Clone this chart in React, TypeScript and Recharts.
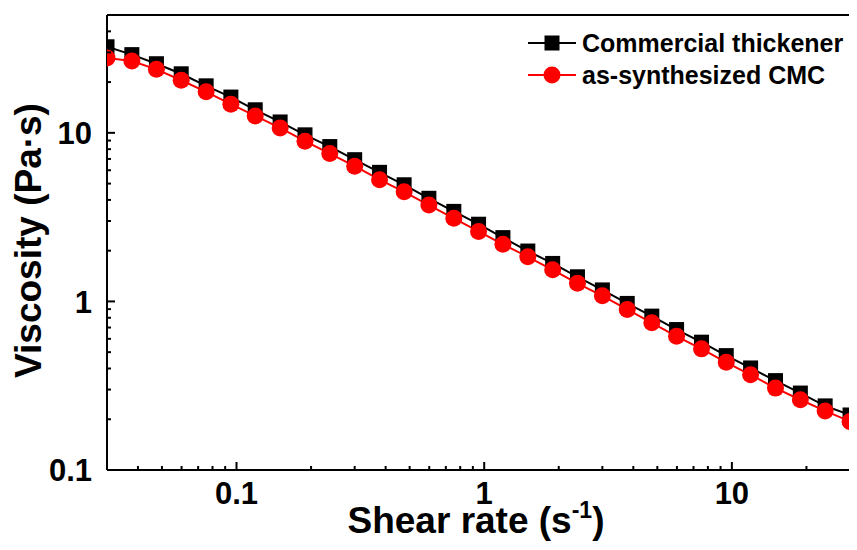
import { LineChart, Line, XAxis, YAxis, ReferenceLine } from "recharts";

const shearRate = [
  0.03, 0.0378, 0.0475, 0.0598, 0.0754, 0.0949, 0.119, 0.15, 0.189, 0.238, 0.3, 0.378, 0.475, 0.598, 0.754, 0.949,
  1.19, 1.5, 1.89, 2.38, 3.0, 3.78, 4.75, 5.98, 7.54, 9.49, 11.9, 15.0, 18.9, 23.8, 30.0,
];
const commercial = [
  32.4, 29.1, 25.7, 22.4, 19.0, 16.3, 13.7, 11.6, 9.73, 8.29, 6.93, 5.83, 4.92, 4.09, 3.42, 2.87, 2.39, 1.99, 1.68,
  1.4, 1.17, 0.973, 0.818, 0.681, 0.573, 0.477, 0.403, 0.339, 0.286, 0.24, 0.212,
];
const synthesized = [
  27.8, 26.7, 23.8, 20.5, 17.5, 14.8, 12.6, 10.7, 8.92, 7.53, 6.34, 5.27, 4.47, 3.73, 3.11, 2.6, 2.18, 1.84, 1.54,
  1.28, 1.08, 0.896, 0.747, 0.621, 0.523, 0.435, 0.367, 0.306, 0.261, 0.224, 0.194,
];

const xMajor = [0.1, 1, 10];
const xMinor = [0.04, 0.05, 0.06, 0.07, 0.08, 0.09, 0.2, 0.3, 0.4, 0.5, 0.6, 0.7, 0.8, 0.9, 2, 3, 4, 5, 6, 7, 8, 9, 20, 30];
const yMajor = [0.1, 1, 10];
const yMinor = [0.2, 0.3, 0.4, 0.5, 0.6, 0.7, 0.8, 0.9, 2, 3, 4, 5, 6, 7, 8, 9, 20, 30, 40, 50];

const data = shearRate.map((x, i) => ({ x, commercial: commercial[i], synthesized: synthesized[i] }));

const font = "Arial, 'Liberation Sans', sans-serif";

const XTick = (props: any) => {
  const { x, y, payload } = props;
  const major = xMajor.includes(payload.value);
  return (
    <g>
      <line x1={x} x2={x} y1={y} y2={y - (major ? 8 : 4)} stroke="#000" strokeWidth={2} />
      {major && (
        <text x={x} y={y + 34} textAnchor="middle" fontFamily={font} fontWeight="bold" fontSize={31} fill="#000">
          {payload.value}
        </text>
      )}
    </g>
  );
};

const YTick = (props: any) => {
  const { x, y, payload } = props;
  const major = yMajor.includes(payload.value);
  return (
    <g>
      <line x1={x} x2={x + (major ? 8 : 4)} y1={y} y2={y} stroke="#000" strokeWidth={2} />
      {major && (
        <text x={x - 15} y={y} dy="0.36em" textAnchor="end" fontFamily={font} fontWeight="bold" fontSize={31} fill="#000">
          {payload.value}
        </text>
      )}
    </g>
  );
};

const Square = (p: any) => (
  <rect key={p.index} x={p.cx - 7.5} y={p.cy - 7.5} width={15} height={15} fill="#000" />
);

const legendItems = [
  { name: "Commercial thickener", color: "#000", shape: "square" },
  { name: "as-synthesized CMC", color: "#ff0000", shape: "circle" },
];

const LegendBox = () => (
  <div
    style={{
      position: "absolute",
      top: 27,
      left: 527,
      fontFamily: font,
      fontWeight: "bold",
      fontSize: 25,
      color: "#000",
      whiteSpace: "nowrap",
    }}
  >
    {legendItems.map((it) => (
      <div key={it.name} style={{ display: "flex", alignItems: "center", height: 32 }}>
        <svg width={50} height={20}>
          <line x1={1} x2={49} y1={10} y2={10} stroke={it.color} strokeWidth={2} />
          {it.shape === "square" ? (
            <rect x={17.5} y={2.5} width={15} height={15} fill={it.color} />
          ) : (
            <circle cx={25} cy={10} r={8.5} fill={it.color} />
          )}
        </svg>
        <span style={{ marginLeft: 5, lineHeight: "32px" }}>{it.name}</span>
      </div>
    ))}
  </div>
);

const XTitle = (props: any) => {
  const { viewBox } = props;
  const cx = viewBox.x + viewBox.width / 2 - 6;
  return (
    <text x={cx} y={viewBox.y + 63} textAnchor="middle" fontFamily={font} fontWeight="bold" fontSize={37} fill="#000">
      Shear rate (s
      <tspan fontSize={23} dy={-15}>
        -1
      </tspan>
      <tspan dy={15}>)</tspan>
    </text>
  );
};

const YTitle = (props: any) => {
  const { viewBox } = props;
  const cy = viewBox.y + viewBox.height / 2 - 2;
  const cx = 28;
  return (
    <text
      x={cx}
      y={cy}
      transform={`rotate(-90 ${cx} ${cy})`}
      textAnchor="middle"
      dy="0.35em"
      fontFamily={font}
      fontWeight="bold"
      fontSize={37}
      fill="#000"
    >
      Viscosity (Pa·s)
    </text>
  );
};

export default function App() {
  return (
    <div style={{ margin: -8, width: 857, height: 550, background: "#fff", position: "relative" }}>
      <LineChart width={857} height={550} data={data} margin={{ top: 15, right: 0, left: 0, bottom: 0 }}>
        <XAxis
          dataKey="x"
          type="number"
          scale="log"
          domain={[0.03, 32]}
          allowDataOverflow
          ticks={[...xMajor, ...xMinor]}
          interval={0}
          tick={<XTick />}
          tickLine={false}
          tickSize={0}
          tickMargin={0}
          axisLine={{ stroke: "#000", strokeWidth: 2 }}
          height={80}
          label={<XTitle />}
        />
        <YAxis
          type="number"
          scale="log"
          domain={[0.1, 50]}
          allowDataOverflow
          ticks={[...yMajor, ...yMinor]}
          interval={0}
          tick={<YTick />}
          tickLine={false}
          tickSize={0}
          tickMargin={0}
          axisLine={{ stroke: "#000", strokeWidth: 2 }}
          width={107}
          label={<YTitle />}
        />
        <ReferenceLine y={50} stroke="#000" strokeWidth={2} ifOverflow="visible" />
        <Line
          dataKey="commercial"
          name="Commercial thickener"
          stroke="#000"
          strokeWidth={2}
          dot={Square}
          isAnimationActive={false}
        />
        <Line
          dataKey="synthesized"
          name="as-synthesized CMC"
          stroke="#ff0000"
          strokeWidth={2}
          dot={{ r: 8.5, fill: "#ff0000", stroke: "#ff0000", strokeWidth: 0 }}
          isAnimationActive={false}
        />
      </LineChart>
      <LegendBox />
    </div>
  );
}
